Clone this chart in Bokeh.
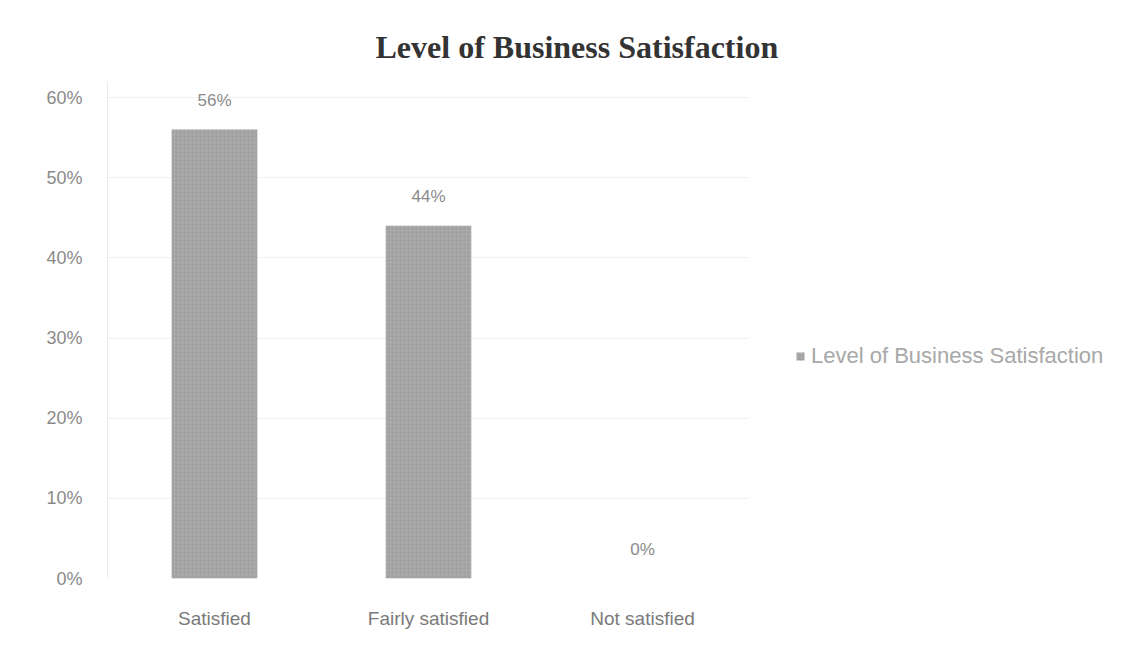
from bokeh.plotting import figure
from bokeh.models import ColumnDataSource, LabelSet, Legend, LegendItem, NumeralTickFormatter, FixedTicker
from bokeh.embed import file_html
from bokeh.resources import INLINE
from bokeh.core.properties import value

categories = ["Satisfied", "Fairly satisfied", "Not satisfied"]
values = [0.56, 0.44, 0.0]
value_labels = ["56%", "44%", "0%"]
y_ticks = [0.0, 0.1, 0.2, 0.3, 0.4, 0.5, 0.6]
title_text = "Level of Business Satisfaction"
series_name = "Level of Business Satisfaction"

src = ColumnDataSource(dict(cat=categories, val=values, lab=value_labels))

p = figure(x_range=categories, y_range=(0, 0.62), frame_width=642, frame_height=497,
           output_backend="svg", toolbar_location=None,
           min_border_left=107, min_border_right=0, min_border_top=81, min_border_bottom=72)
p.title.text = title_text
p.title.align = "left"
p.title.offset = 268
p.title.text_font = "Liberation Serif"
p.title.text_font_style = "bold"
p.title.text_font_size = "32px"
p.title.text_color = "#333333"
p.title.standoff = 34
p.outline_line_color = None
p.background_fill_color = "white"
p.border_fill_color = "white"

bars = p.vbar(x="cat", top="val", width=0.4, source=src,
              fill_color="#a2a2a2", line_color=None,
              hatch_pattern="dot", hatch_color="#b8b8b8", hatch_scale=4, hatch_alpha=0.8)

p.xgrid.grid_line_color = None
p.ygrid.grid_line_color = "#f1f1f1"
p.yaxis.ticker = FixedTicker(ticks=y_ticks)
p.yaxis.formatter = NumeralTickFormatter(format="0%")
p.yaxis.major_label_standoff = 19
p.yaxis.axis_line_color = "#ececec"
p.yaxis.major_tick_line_color = None
p.yaxis.minor_tick_line_color = None
p.yaxis.major_label_text_font = "Liberation Sans"
p.yaxis.major_label_text_font_size = "18px"
p.yaxis.major_label_text_color = "#8a8a8a"

p.xaxis.axis_line_color = None
p.xaxis.major_tick_line_color = None
p.xaxis.major_label_standoff = 23
p.xaxis.major_label_text_font = "Liberation Sans"
p.xaxis.major_label_text_font_size = "19px"
p.xaxis.major_label_text_color = "#7a7a7a"

labels = LabelSet(x="cat", y="val", text="lab", source=src, y_offset=20,
                  text_align="center", text_baseline="bottom",
                  text_font=value("Liberation Sans"), text_font_size="17px",
                  text_color="#8a8a8a")
p.add_layout(labels)

legend = Legend(items=[LegendItem(label=series_name, renderers=[bars])],
                location=(46, 209), border_line_color=None, background_fill_alpha=0,
                label_text_color="#a8a8a8", label_text_font="Liberation Sans",
                label_text_font_size="22px", glyph_width=10, glyph_height=10,
                label_standoff=6, padding=0, margin=0)
p.add_layout(legend, "right")

open("out.html", "w").write(file_html(p, INLINE))
